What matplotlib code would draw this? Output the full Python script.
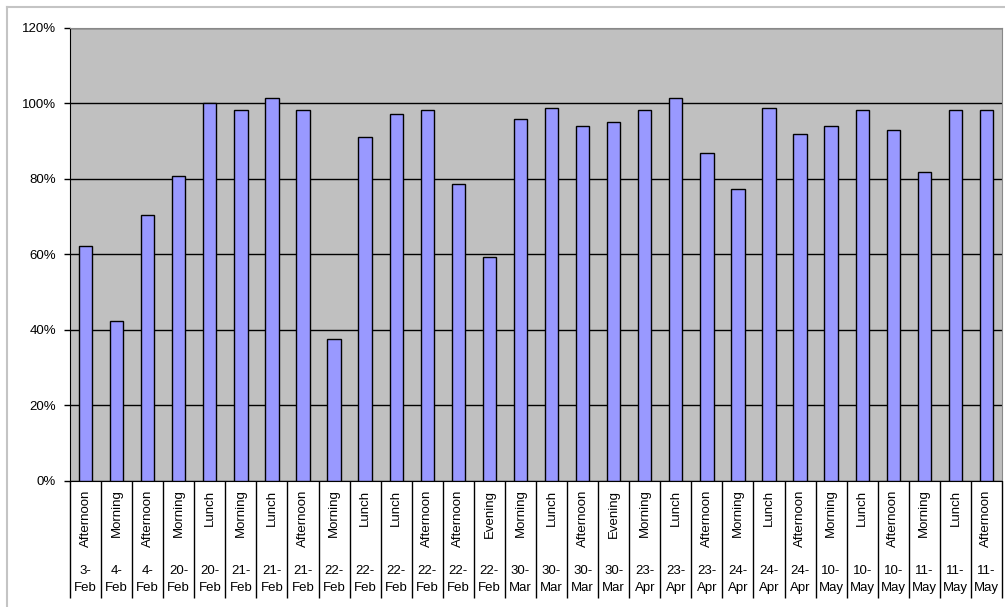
import matplotlib.pyplot as plt
import numpy as np
from matplotlib.ticker import PercentFormatter
from matplotlib.transforms import offset_copy
from matplotlib.lines import Line2D

plt.rcParams['font.family'] = ['Liberation Sans', 'DejaVu Sans']

sessions = ['Afternoon', 'Morning', 'Afternoon', 'Morning', 'Lunch', 'Morning', 'Lunch',
            'Afternoon', 'Morning', 'Lunch', 'Lunch', 'Afternoon', 'Afternoon', 'Evening',
            'Morning', 'Lunch', 'Afternoon', 'Evening', 'Morning', 'Lunch', 'Afternoon',
            'Morning', 'Lunch', 'Afternoon', 'Morning', 'Lunch', 'Afternoon', 'Morning',
            'Lunch', 'Afternoon']
dates = ['3-Feb', '4-Feb', '4-Feb', '20-Feb', '20-Feb', '21-Feb', '21-Feb', '21-Feb',
         '22-Feb', '22-Feb', '22-Feb', '22-Feb', '22-Feb', '22-Feb', '30-Mar', '30-Mar',
         '30-Mar', '30-Mar', '23-Apr', '23-Apr', '23-Apr', '24-Apr', '24-Apr', '24-Apr',
         '10-May', '10-May', '10-May', '11-May', '11-May', '11-May']
attendance = [62.1, 42.4, 70.4, 80.7, 100.0, 98.2, 101.5, 98.2, 37.5, 91.1,
              97.1, 98.2, 78.5, 59.2, 96.0, 98.9, 94.0, 95.0, 98.2, 101.5,
              86.9, 77.4, 98.9, 91.9, 94.0, 98.2, 92.9, 81.9, 98.2, 98.2]

W, H = 1005, 607
fig = plt.figure(figsize=(W / 100, H / 100), dpi=100)
fig.patch.set_facecolor('white')

# chart-area border (top and left edges)
fig.add_artist(Line2D([6.5 / W, 1.0], [1 - 6.5 / H] * 2, color='#c4c4c4', lw=1.5))
fig.add_artist(Line2D([6.5 / W] * 2, [0, 1 - 6.5 / H], color='#c4c4c4', lw=1.5))

left, right, top, bottom = 70, 1002, 28, 480.5
ax = fig.add_axes([left / W, 1 - bottom / H, (right - left) / W, (bottom - top) / H])
ax.set_facecolor('#c0c0c0')

x = np.arange(len(attendance))
ax.set_axisbelow(True)
ax.yaxis.grid(True, color='black', lw=1)
ax.bar(x, attendance, width=0.43, color='#9999ff', edgecolor='black', lw=1, zorder=3)

ax.set_xlim(-0.5, len(attendance) - 0.5)
ax.set_ylim(0, 120)
ax.set_yticks(np.arange(0, 121, 20))
ax.yaxis.set_major_formatter(PercentFormatter(decimals=0))
ax.tick_params(axis='y', length=4, width=1, pad=6, labelsize=9.5, color='black')

# category boundaries drawn as long minor ticks below the axis
ax.set_xticks([])
ax.set_xticks(np.arange(-0.5, len(attendance)), minor=True)
ax.tick_params(axis='x', which='minor', direction='out', length=117 * 0.72, width=1,
               color='black', labelbottom=False)

for s in ['top', 'right']:
    ax.spines[s].set_color('#888888')
for s in ['left', 'bottom']:
    ax.spines[s].set_color('black')

trans_s = offset_copy(ax.get_xaxis_transform(), fig=fig, y=-9, units='dots')
trans_d = offset_copy(ax.get_xaxis_transform(), fig=fig, y=-85, units='dots')
for i, (s, d) in enumerate(zip(sessions, dates)):
    ax.text(i, 0, s, rotation=90, ha='center', va='top', fontsize=9.5, transform=trans_s)
    day, mon = d.split('-')
    ax.text(i, 0, f'{day}-\n{mon}', ha='center', va='top', fontsize=9.5,
            linespacing=1.55, transform=trans_d)

fig.savefig('out.png', dpi=100)
